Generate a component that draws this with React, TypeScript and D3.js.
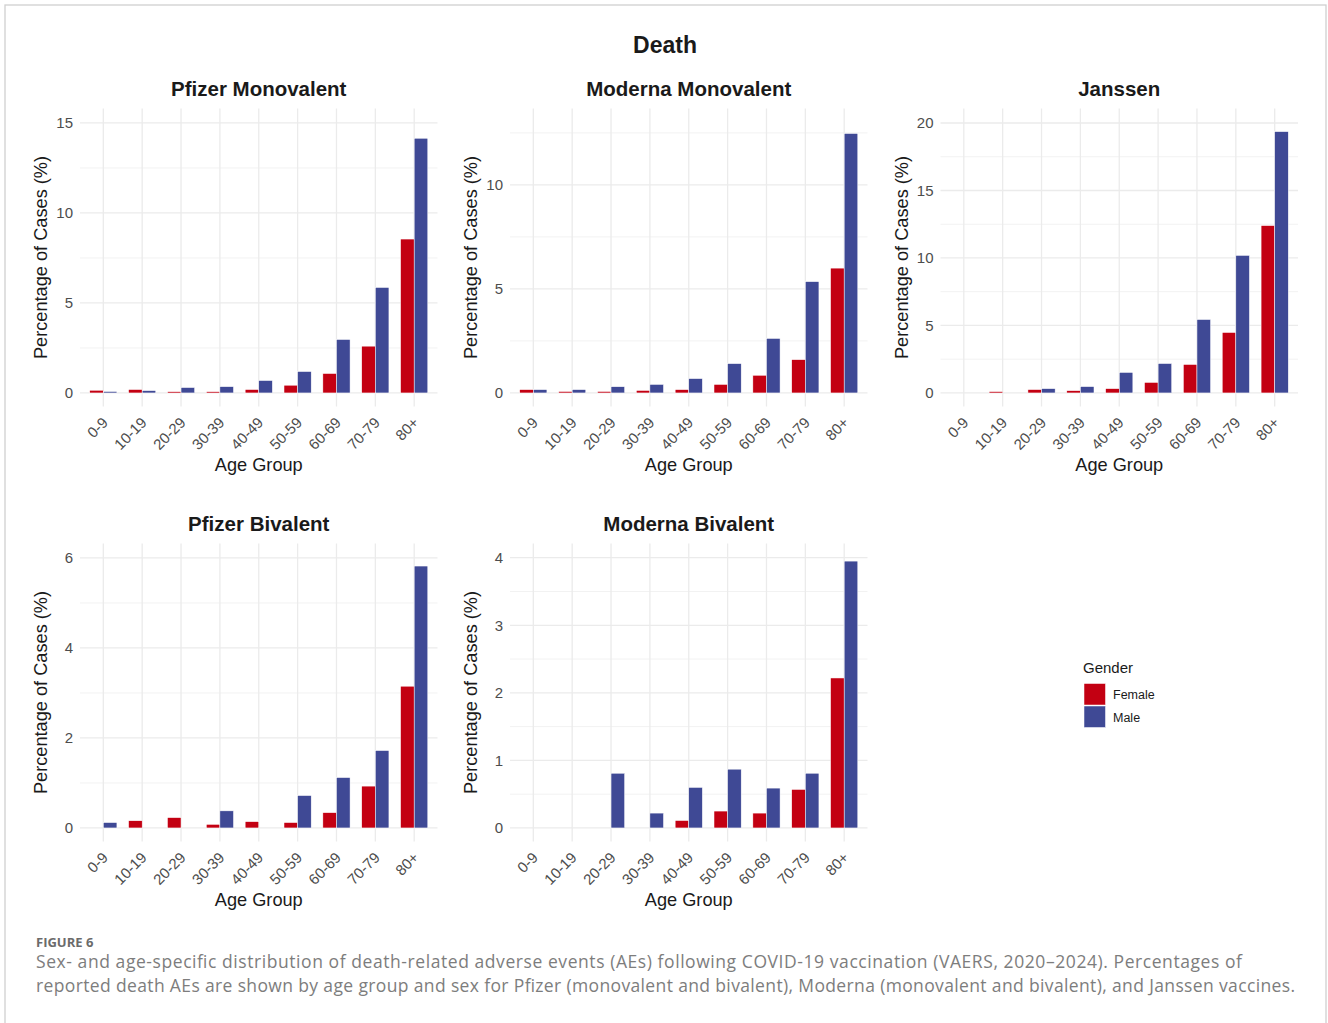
import React from "react";
import * as d3 from "d3";

const ageGroups = ["0-9", "10-19", "20-29", "30-39", "40-49", "50-59", "60-69", "70-79", "80+"];
const genders = ["Female", "Male"];
const vaccines = ["Pfizer Monovalent", "Moderna Monovalent", "Janssen", "Pfizer Bivalent", "Moderna Bivalent"];

// percentage of cases, one row per vaccine, in ageGroups order
const femalePct = [
  [0.15, 0.19, 0.07, 0.07, 0.19, 0.43, 1.08, 2.6, 8.55],
  [0.16, 0.07, 0.07, 0.12, 0.16, 0.41, 0.85, 1.6, 6.0],
  [0, 0.1, 0.25, 0.17, 0.32, 0.78, 2.11, 4.48, 12.4],
  [0, 0.16, 0.23, 0.08, 0.14, 0.12, 0.34, 0.93, 3.15],
  [0, 0, 0, 0, 0.11, 0.25, 0.22, 0.57, 2.22],
];
const malePct = [
  [0.08, 0.13, 0.3, 0.35, 0.69, 1.19, 2.97, 5.86, 14.15],
  [0.16, 0.16, 0.3, 0.41, 0.69, 1.41, 2.62, 5.35, 12.47],
  [0, 0, 0.32, 0.47, 1.52, 2.18, 5.44, 10.19, 19.36],
  [0.12, 0, 0, 0.38, 0, 0.72, 1.12, 1.72, 5.82],
  [0, 0, 0.81, 0.22, 0.6, 0.87, 0.59, 0.81, 3.95],
];
const yTicks = [
  [0, 5, 10, 15],
  [0, 5, 10],
  [0, 5, 10, 15, 20],
  [0, 2, 4, 6],
  [0, 1, 2, 3, 4],
];
const yMinorTicks = [
  [2.5, 7.5, 12.5],
  [2.5, 7.5, 12.5],
  [2.5, 7.5, 12.5, 17.5],
  [1, 3, 5],
  [0.5, 1.5, 2.5, 3.5],
];
// upper data limit of each y scale (before the 5% padding)
const yLimits = [15.05, 13.02, 20.07, 6.02, 4.01];

const captionLines = [
  "Sex- and age-specific distribution of death-related adverse events (AEs) following COVID-19 vaccination (VAERS, 2020–2024). Percentages of",
  "reported death AEs are shown by age group and sex for Pfizer (monovalent and bivalent), Moderna (monovalent and bivalent), and Janssen vaccines.",
];

const colors = { Female: "#C30012", Male: "#3F4995" };

const W = 1328, H = 1023;
const FONT = "'Liberation Sans', Arial, sans-serif";
const PW = 357.5, PH = 298;
const colX = [80, 510, 940.5];
const rowY = [108.5, 543.5];

function Panel({ idx }: { idx: number }) {
  const left = colX[idx % 3];
  const top = rowY[Math.floor(idx / 3)];
  const lim = yLimits[idx];

  const x = d3.scalePoint<string>().domain(ageGroups).range([left, left + PW]).padding(0.6);
  const y = d3.scaleLinear().domain([-0.05 * lim, 1.05 * lim]).range([top + PH, top]);
  const groupW = x.step() * 0.7;
  const sub = d3.scaleBand<string>().domain(genders).range([-groupW / 2, groupW / 2]);

  const rows = ageGroups.flatMap((g, i) => [
    { age: g, gender: "Female", v: femalePct[idx][i] },
    { age: g, gender: "Male", v: malePct[idx][i] },
  ]);

  const cx = left + PW / 2;
  const cy = top + PH / 2;

  return (
    <g>
      <text x={cx} y={top - 13} textAnchor="middle" fontSize={20.5} fontWeight="bold" fill="#1a1a1a">
        {vaccines[idx]}
      </text>
      {yMinorTicks[idx].map((t) => (
        <line key={"mn" + t} x1={left} x2={left + PW} y1={y(t)} y2={y(t)} stroke="#F2F2F2" strokeWidth={1} />
      ))}
      {yTicks[idx].map((t) => (
        <line key={"mj" + t} x1={left} x2={left + PW} y1={y(t)} y2={y(t)} stroke="#EBEBEB" strokeWidth={1.3} />
      ))}
      {ageGroups.map((g) => (
        <line key={"v" + g} x1={x(g)} x2={x(g)} y1={top} y2={top + PH} stroke="#EBEBEB" strokeWidth={1.3} />
      ))}
      {rows
        .filter((d) => d.v > 0)
        .map((d) => (
          <rect
            key={d.age + d.gender}
            x={(x(d.age) as number) + (sub(d.gender) as number)}
            width={sub.bandwidth()}
            y={y(d.v)}
            height={y(0) - y(d.v)}
            fill={colors[d.gender as "Female" | "Male"]}
            stroke="#fff"
            strokeWidth={0.5}
          />
        ))}
      {yTicks[idx].map((t) => (
        <text key={"yl" + t} x={left - 7} y={y(t)} dy="0.36em" textAnchor="end" fontSize={15} fill="#4D4D4D">
          {t}
        </text>
      ))}
      {ageGroups.map((g) => (
        <text
          key={"xl" + g}
          transform={`translate(${(x(g) as number) + 5.5},${top + PH + 17}) rotate(-45)`}
          textAnchor="end"
          fontSize={15}
          fill="#4D4D4D"
        >
          {g}
        </text>
      ))}
      <text x={cx} y={top + PH + 64} textAnchor="middle" fontSize={18.2} fill="#1a1a1a">
        Age Group
      </text>
      <text
        transform={`translate(${left - 33},${cy}) rotate(-90)`}
        textAnchor="middle"
        fontSize={18.2}
        fill="#1a1a1a"
      >
        Percentage of Cases (%)
      </text>
    </g>
  );
}

export default function App() {
  return (
    <svg
      width={W}
      height={H}
      style={{ position: "absolute", left: 0, top: 0, background: "#fff" }}
      fontFamily={FONT}
    >
      <rect x={5} y={5} width={1321} height={1040} fill="#fff" stroke="#D0D0D0" strokeWidth={1.3} />
      <text x={665} y={53} textAnchor="middle" fontSize={23} fontWeight="bold" fill="#1a1a1a">
        Death
      </text>
      {vaccines.map((v, i) => (
        <Panel key={v} idx={i} />
      ))}
      <g>
        <text x={1083} y={673} fontSize={15} fill="#1a1a1a">
          Gender
        </text>
        {genders.map((g, i) => (
          <g key={g}>
            <rect x={1084} y={683.5 + i * 22.5} width={21.5} height={21.5} fill={colors[g as "Female" | "Male"]} stroke="#fff" strokeWidth={0.5} />
            <text x={1113} y={694.5 + i * 22.5} dy="0.36em" fontSize={12.5} fill="#1a1a1a">
              {g}
            </text>
          </g>
        ))}
      </g>
      <g fontFamily="'Open Sans', 'Noto Sans', sans-serif">
        <text x={36} y={947} fontSize={13} fontWeight="bold" fill="#6b6b6b">
          FIGURE 6
        </text>
        {captionLines.map((line, i) => (
          <text
            key={i}
            x={36}
            y={968 + i * 24}
            fontSize={17.5}
            fill="#7d7d7d"
            textLength={i === 0 ? 1206 : 1259}
            lengthAdjust="spacing"
          >
            {line}
          </text>
        ))}
      </g>
    </svg>
  );
}
